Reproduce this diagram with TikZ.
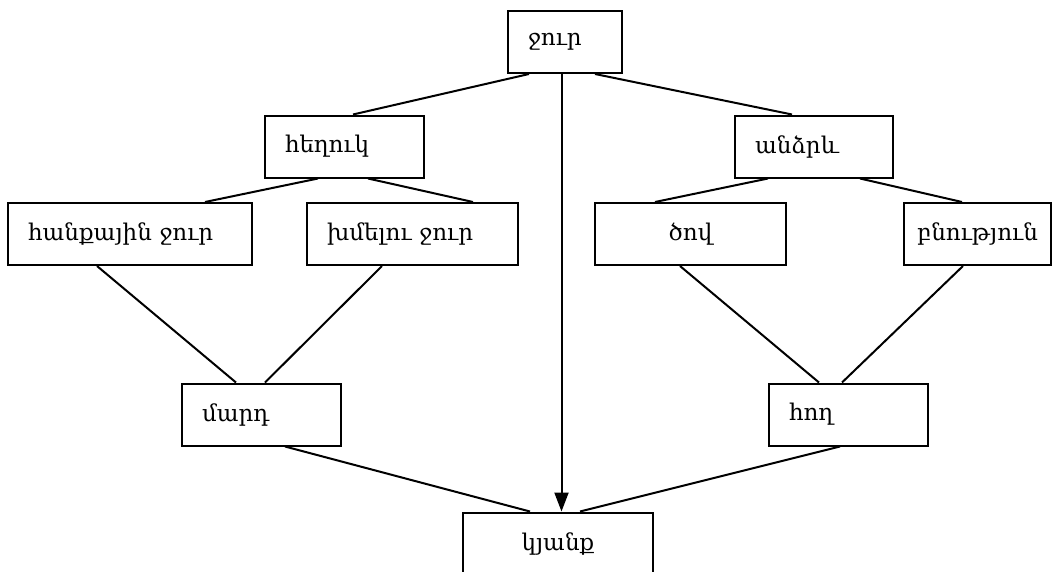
\documentclass[tikz,border=0pt]{standalone}
\usepackage{fontspec}
\setmainfont{DejaVu Serif}
\usetikzlibrary{arrows.meta}

\begin{document}
\begin{tikzpicture}[x=1pt, y=-1pt, line width=2pt,
  box/.style={draw, minimum height=62pt, inner ysep=0pt, font=\fontsize{23}{26}\selectfont},
  lbox/.style={box, text width=#1, inner xsep=20pt, align=left},
  cbox/.style={box, minimum width=#1, inner xsep=0pt}]
\useasboundingbox (0,0) rectangle (1052,571);
\clip (0,0) rectangle (1052,571);

\node[lbox=74pt] (water) at (565,42) {ջուր};
\node[lbox=119pt] (liquid) at (344.5,146.5) {հեղուկ};
\node[lbox=118pt] (rain) at (814,146.5) {անձրև};
\node[lbox=204pt] (mineral) at (130,234) {հանքային ջուր};
\node[lbox=171pt] (drinking) at (412.5,234) {խմելու ջուր};
\node[cbox=191pt] (sea) at (690.5,234) {ծով};
\node[cbox=147pt] (nature) at (977.5,234) {բնություն};
\node[lbox=119pt] (man) at (261.5,414.5) {մարդ};
\node[lbox=119pt] (soil) at (848.5,414.5) {հող};
\node[cbox=190pt] (life) at (558,543.5) {կյանք};

\draw ([xshift=22pt]water.south west) -- ([xshift=8.5pt]liquid.north);
\draw ([xshift=30pt]water.south) -- ([xshift=-22pt]rain.north);
\draw[-{Triangle[length=19pt,width=14pt]}] ([xshift=-3.5pt]water.south) -- ([xshift=3.5pt]life.north);

\draw ([xshift=-26.5pt]liquid.south) -- ([xshift=75pt]mineral.north);
\draw ([xshift=23.5pt]liquid.south) -- ([xshift=60.5pt]drinking.north);
\draw ([xshift=-46pt]rain.south) -- ([xshift=-35.5pt]sea.north);
\draw ([xshift=46pt]rain.south) -- ([xshift=-15.5pt]nature.north);

\draw ([xshift=-33pt]mineral.south) -- ([xshift=-25.5pt]man.north);
\draw ([xshift=-30.5pt]drinking.south) -- ([xshift=3.5pt]man.north);
\draw ([xshift=-10.5pt]sea.south) -- ([xshift=-29.5pt]soil.north);
\draw ([xshift=-14.5pt]nature.south) -- ([xshift=-6.5pt]soil.north);

\draw ([xshift=23.5pt]man.south) -- ([xshift=-28pt]life.north);
\draw ([xshift=-8.5pt]soil.south) -- ([xshift=22pt]life.north);
\end{tikzpicture}
\end{document}
